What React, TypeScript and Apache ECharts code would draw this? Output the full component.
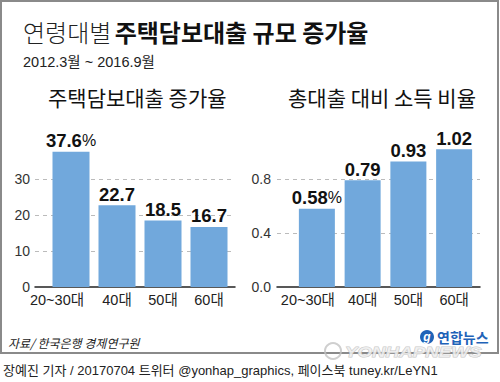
import React, { useEffect, useRef } from "react";
import * as echarts from "echarts";

const categories = ["20~30대", "40대", "50대", "60대"];
const growthValues = [37.6, 22.7, 18.5, 16.7];
const ratioValues = [0.58, 0.79, 0.93, 1.02];
const growthTicks = { min: 0, max: 40, interval: 10 };
const ratioTicks = { min: 0, max: 1.2, interval: 0.4 };

const title1 = "연령대별";
const title2 = "주택담보대출 규모 증가율";
const period = "2012.3월 ~ 2016.9월";
const leftTitle = "주택담보대출 증가율";
const rightTitle = "총대출 대비 소득 비율";
const source = "자료/ 한국은행 경제연구원";
const footer = "장예진 기자 / 20170704 트위터 @yonhap_graphics, 페이스북 tuney.kr/LeYN1";

const LAT = "'Liberation Sans', 'Noto Sans CJK KR', sans-serif";
const KR = "'Noto Sans CJK KR', sans-serif";
const BAR = "#71a8dc";

export default function App() {
  const ref = useRef<HTMLDivElement>(null);
  useEffect(() => {
    if (!ref.current) return;
    const chart = echarts.init(ref.current, null, { renderer: "svg" });
    const top1 = 143, top2 = 125, bottom = 95;
    const xLabel = (shift: number) => ({
      interval: 0,
      fontFamily: LAT,
      fontSize: 14.5,
      color: "#222",
      margin: 6,
      formatter: (v: string, i: number) => (i === 0 ? `{f|${v}}` : v),
      rich: { f: { fontFamily: LAT, fontSize: 14.5, color: "#222", padding: [0, shift, 0, 0] } },
    });
    const frameX = (gi: number) => ({
      type: "category", gridIndex: gi, data: categories,
      axisLine: { show: true, lineStyle: { color: "#222", width: 1.5 } },
      axisTick: { show: false }, axisLabel: { show: false },
    });
    const splitLine = {
      show: true, showMinLine: false, showMaxLine: false,
      lineStyle: { type: [4, 4], color: "#bbb", width: 1 },
    };
    const valueRich = {
      v: { fontFamily: LAT, fontSize: 18.5, fontWeight: "bold", color: "#111" },
      p: { fontFamily: LAT, fontSize: 16, color: "#111" },
    };
    chart.setOption({
      animation: false,
      backgroundColor: "#fff",
      grid: [
        { left: 48, width: 184, top: top1, bottom },
        { left: 35, width: 200, top: top1, bottom },
        { left: 294, width: 183, top: top2, bottom },
        { left: 277, width: 203, top: top2, bottom },
      ],
      xAxis: [
        { type: "category", gridIndex: 0, data: categories, axisLine: { show: false }, axisTick: { show: false }, axisLabel: xLabel(28) },
        frameX(1),
        { type: "category", gridIndex: 2, data: categories, axisLine: { show: false }, axisTick: { show: false }, axisLabel: xLabel(18) },
        frameX(3),
      ],
      yAxis: [
        { type: "value", gridIndex: 0, ...growthTicks, show: false },
        {
          type: "value", gridIndex: 1, ...growthTicks,
          axisLine: { show: false }, axisTick: { show: false },
          axisLabel: { showMaxLabel: false, margin: 5, fontFamily: LAT, fontSize: 14, color: "#333" },
          splitLine,
        },
        { type: "value", gridIndex: 2, ...ratioTicks, show: false },
        {
          type: "value", gridIndex: 3, ...ratioTicks,
          axisLine: { show: false }, axisTick: { show: false },
          axisLabel: { showMaxLabel: false, margin: 6, fontFamily: LAT, fontSize: 14, color: "#333", formatter: (v: number) => v.toFixed(1) },
          splitLine,
        },
      ],
      series: [
        {
          type: "bar", xAxisIndex: 0, yAxisIndex: 0, data: growthValues, barWidth: 37,
          itemStyle: { color: BAR },
          label: {
            show: true, position: "top", distance: 2,
            formatter: (p: any) => (p.dataIndex === 0 ? `{v|${p.value}}{p|%}` : `{v|${p.value}}`),
            rich: valueRich,
          },
        },
        {
          type: "bar", xAxisIndex: 2, yAxisIndex: 2, data: ratioValues, barWidth: 36,
          itemStyle: { color: BAR },
          label: {
            show: true, position: "top", distance: 2,
            formatter: (p: any) => (p.dataIndex === 0 ? `{v|${p.value.toFixed(2)}}{p|%}` : `{v|${p.value.toFixed(2)}}`),
            rich: valueRich,
          },
        },
      ],
      graphic: [
        { type: "rect", shape: { x: 1, y: 1, width: 497, height: 352 }, style: { fill: "none", stroke: "#8a8a8a", lineWidth: 2 }, z: 10 },
        {
          type: "text", x: 23, y: 31,
          style: {
            text: `{a|${title1}} {b|${title2}}`, verticalAlign: "middle",
            rich: {
              a: { fontFamily: KR, fontSize: 24, fontWeight: 300, fill: "#222" },
              b: { fontFamily: KR, fontSize: 24, fontWeight: "bold", fill: "#111" },
            },
          },
        },
        { type: "text", x: 23, y: 62, style: { text: period, fontFamily: LAT, fontSize: 14.5, fill: "#222", verticalAlign: "middle" } },
        { type: "text", x: 48, y: 97, style: { text: leftTitle, fontFamily: KR, fontSize: 21, fill: "#111", verticalAlign: "middle" } },
        { type: "text", x: 288, y: 97, style: { text: rightTitle, fontFamily: KR, fontSize: 21, fill: "#111", verticalAlign: "middle" } },
        { type: "text", x: 8, y: 342, style: { text: source, fontFamily: KR, fontSize: 12, fontStyle: "italic", fill: "#222", verticalAlign: "middle" } },
        { type: "circle", shape: { cx: 333, cy: 351, r: 8 }, style: { fill: "none", stroke: "rgba(195,195,195,0.8)", lineWidth: 2 }, z: 11 },
        {
          type: "text", x: 345, y: 352, scaleX: 1.25,
          style: { text: "YONHAPNEWS", fontFamily: "'Liberation Sans', sans-serif", fontSize: 15, fontWeight: "bold", fontStyle: "italic", fill: "rgba(240,240,240,0.85)", stroke: "rgba(185,185,185,0.8)", lineWidth: 1, verticalAlign: "middle" },
          z: 11,
        },
        { type: "circle", shape: { cx: 427, cy: 337, r: 7 }, style: { fill: "#1f63b8" }, z: 12 },
        { type: "text", x: 427, y: 337, style: { text: "g", fontFamily: "'Liberation Sans', sans-serif", fontSize: 12, fontStyle: "italic", fontWeight: "bold", fill: "#fff", align: "center", verticalAlign: "middle" }, z: 13 },
        { type: "text", x: 437, y: 337, style: { text: "연합뉴스", fontFamily: KR, fontSize: 14, fontWeight: "bold", fill: "#1f63b8", verticalAlign: "middle" }, z: 12 },
        { type: "text", x: 3, y: 370, style: { text: footer, fontFamily: LAT, fontSize: 13, fill: "#222", verticalAlign: "middle" } },
      ],
    });
    return () => chart.dispose();
  }, []);
  return <div ref={ref} style={{ position: "fixed", left: 0, top: 0, width: 500, height: 382 }} />;
}
